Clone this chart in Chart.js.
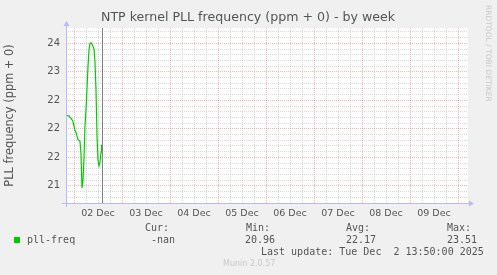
<!DOCTYPE html>
<html lang="en">
<head>
<meta charset="UTF-8" />
<title>NTP kernel PLL frequency (ppm + 0) - by week</title>
<script src="https://cdn.jsdelivr.net/npm/chart.js"></script>
<style>
  html, body { margin: 0; padding: 0; background: #f0f0f0; }
</style>
</head>
<body>
<canvas id="myChart" width="497" height="275"></canvas>
<script>
// hours relative to 02 Dec 00:00
const hours = [
  -3.5, -3, -2.5, -2, -1.5, -1, -0.5, 0, 0.5, 1, 1.5, 2, 2.5, 3, 3.5, 4, 4.5, 5,
  5.5, 6, 6.5, 7, 7.5, 8, 8.5, 9, 9.5, 10, 10.5, 11, 11.5, 12, 12.5, 13, 13.5, 13.75,
];
const pllFreq = [
  22.24, 22.23, 22.23, 22.2, 22.19, 22.16, 22.13, 22.05, 21.97, 21.94, 21.87,
  21.81, 21.8, 21.78, 21.56, 20.96, 21.09, 21.49, 22.07, 22.33, 22.71, 23.1,
  23.38, 23.5, 23.51, 23.48, 23.45, 23.4, 23.17, 22.68, 21.89, 21.45, 21.35,
  21.42, 21.59, 21.72,
];
const dayLabels = ["02 Dec", "03 Dec", "04 Dec", "05 Dec", "06 Dec", "07 Dec", "08 Dec", "09 Dec"];
// rrdtool prints %.0f, so 23.5 shows as 24, 22.5 and 21.5 as 22
const yTickValues = [21, 21.5, 22, 22.5, 23, 23.5];
const yTickLabels = ["21", "22", "22", "22", "23", "24"];
const lastUpdateHour = 13 + 50 / 60;

const legend = {
  name: "pll-freq",
  cur: "-nan",
  min: "20.96",
  avg: "22.17",
  max: "23.51",
};

const txt = "#555";
const redGrid = "rgba(230,110,110,0.5)";
const grayGrid = "rgba(165,165,165,0.42)";
const axisCol = "#b8b8ff";

const muninPlugin = {
  id: "munin",
  beforeDraw(chart) {
    const { ctx, chartArea: a } = chart;
    ctx.save();
    ctx.fillStyle = "#f0f0f0";
    ctx.fillRect(0, 0, chart.width, chart.height);
    ctx.fillStyle = "#ffffff";
    ctx.fillRect(a.left, a.top, a.right - a.left, a.bottom - a.top);
    ctx.restore();
  },
  afterDraw(chart) {
    const { ctx, chartArea: a } = chart;
    const x = chart.scales.x;
    ctx.save();

    // vrule at last update
    const vx = Math.round(x.getPixelForValue(lastUpdateHour)) + 0.5;
    ctx.strokeStyle = "#808080";
    ctx.lineWidth = 1;
    ctx.beginPath();
    ctx.moveTo(vx, a.top);
    ctx.lineTo(vx, a.bottom);
    ctx.stroke();

    // axes with arrows
    ctx.strokeStyle = axisCol;
    ctx.fillStyle = axisCol;
    ctx.beginPath();
    ctx.moveTo(a.left - 4, a.bottom + 0.5);
    ctx.lineTo(a.right + 2, a.bottom + 0.5);
    ctx.moveTo(a.left + 0.5, a.bottom + 4);
    ctx.lineTo(a.left + 0.5, a.top - 2);
    ctx.stroke();
    ctx.beginPath();
    ctx.moveTo(a.right + 6, a.bottom + 0.5);
    ctx.lineTo(a.right + 1, a.bottom - 2.5);
    ctx.lineTo(a.right + 1, a.bottom + 3.5);
    ctx.closePath();
    ctx.fill();
    ctx.beginPath();
    ctx.moveTo(a.left + 0.5, a.top - 7);
    ctx.lineTo(a.left - 2.5, a.top - 2);
    ctx.lineTo(a.left + 3.5, a.top - 2);
    ctx.closePath();
    ctx.fill();

    // titles
    ctx.fillStyle = txt;
    ctx.textBaseline = "middle";
    ctx.textAlign = "center";
    ctx.font = "12.6px 'DejaVu Sans'";
    ctx.fillText("NTP kernel PLL frequency (ppm + 0) - by week", 248, 18);
    ctx.save();
    ctx.font = "11.4px 'DejaVu Sans'";
    ctx.translate(10, (a.top + a.bottom) / 2);
    ctx.rotate(-Math.PI / 2);
    ctx.fillText("PLL frequency (ppm + 0)", 0, 0);
    ctx.restore();

    ctx.save();
    ctx.fillStyle = "#c8c8c8";
    ctx.font = "7.5px 'DejaVu Sans'";
    ctx.textAlign = "left";
    ctx.translate(488, 5);
    ctx.rotate(Math.PI / 2);
    ctx.fillText("RRDTOOL / TOBI OETIKER", 0, 0);
    ctx.restore();

    // legend block
    ctx.textAlign = "left";
    ctx.font = "10px 'DejaVu Sans Mono'";
    ctx.fillText("Cur:", 145, 228);
    ctx.fillText("Min:", 246, 228);
    ctx.fillText("Avg:", 346, 228);
    ctx.fillText("Max:", 447, 228);
    ctx.fillStyle = chart.data.datasets[0].borderColor;
    ctx.fillRect(14, 237, 6, 6);
    ctx.fillStyle = txt;
    ctx.fillText(legend.name, 27, 240);
    ctx.fillText(legend.cur, 151, 240);
    ctx.fillText(legend.min, 245, 240);
    ctx.fillText(legend.avg, 346, 240);
    ctx.fillText(legend.max, 447, 240);
    ctx.fillText("Last update: Tue Dec  2 13:50:00 2025", 261, 252);

    ctx.fillStyle = "#c8c8c8";
    ctx.font = "8px 'DejaVu Sans'";
    ctx.fillText("Munin 2.0.57", 223, 264);
    ctx.restore();
  },
};

new Chart(document.getElementById("myChart").getContext("2d"), {
  type: "line",
  data: {
    datasets: [
      {
        label: legend.name,
        data: hours.map((h, i) => ({ x: h, y: pllFreq[i] })),
        borderColor: "#00cc00",
        borderWidth: 1.2,
        pointRadius: 0,
        tension: 0,
        fill: false,
      },
    ],
  },
  options: {
    responsive: false,
    animation: false,
    events: [],
    layout: { padding: { left: 0, top: 28, right: 29, bottom: 0 } },
    plugins: { legend: { display: false }, title: { display: false }, tooltip: { enabled: false } },
    scales: {
      x: {
        type: "linear",
        min: -4,
        max: 197,
        afterFit: (s) => { s.height = 72; },
        afterBuildTicks: (s) => {
          const t = [];
          for (let v = 0; v <= 192; v += 6) t.push({ value: v });
          s.ticks = t;
        },
        border: { display: false, dash: [1, 1] },
        grid: {
          drawTicks: false,
          lineWidth: 1,
          color: (c) => (c.tick && c.tick.value % 24 === 0 ? redGrid : grayGrid),
        },
        ticks: {
          autoSkip: false,
          maxRotation: 0,
          padding: 5,
          color: txt,
          font: { family: "DejaVu Sans", size: 9.5 },
          callback: (v) => (v % 24 === 12 ? dayLabels[(v - 12) / 24] : ""),
        },
      },
      y: {
        min: 20.7,
        max: 23.77,
        afterFit: (s) => { s.width = 66; },
        afterBuildTicks: (s) => {
          const t = [];
          for (let i = 208; i <= 237; i++) t.push({ value: i / 10 });
          s.ticks = t;
        },
        border: { display: false, dash: [1, 1] },
        grid: {
          drawTicks: false,
          lineWidth: 1,
          color: (c) => (c.tick && Math.round(c.tick.value * 10) % 5 === 0 ? redGrid : grayGrid),
        },
        ticks: {
          autoSkip: false,
          padding: 6,
          color: txt,
          font: { family: "DejaVu Sans", size: 10 },
          callback: (v) => {
            const k = yTickValues.findIndex((t) => Math.abs(t - v) < 0.001);
            return k >= 0 ? yTickLabels[k] : "";
          },
        },
      },
    },
  },
  plugins: [muninPlugin],
});
</script>
</body>
</html>
